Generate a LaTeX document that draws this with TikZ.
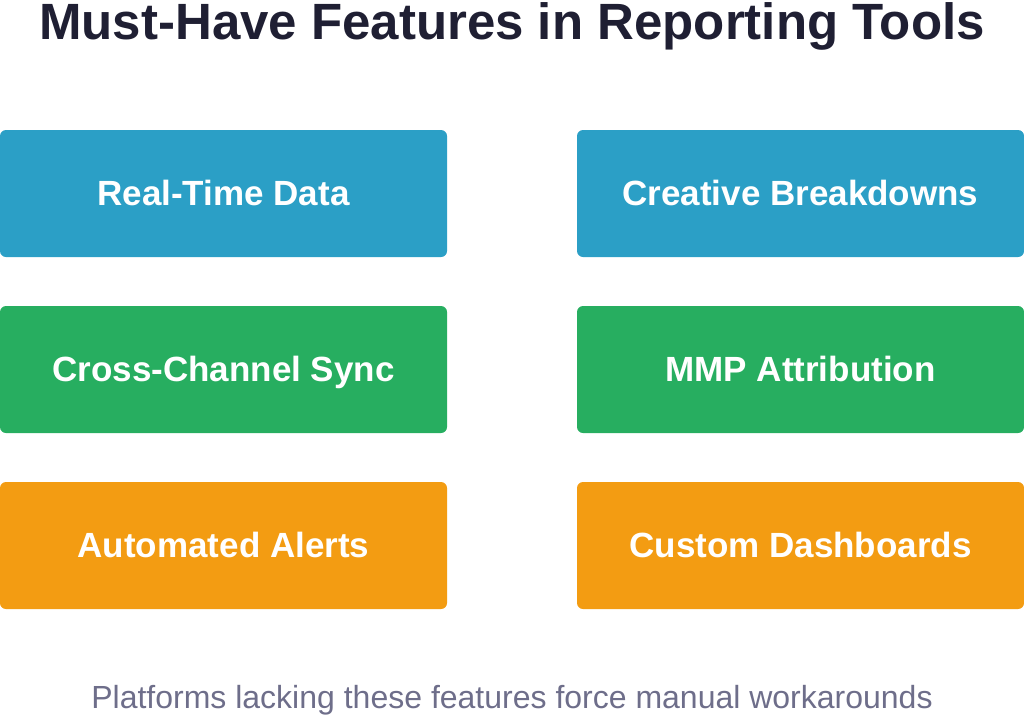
\documentclass[tikz,border=0pt]{standalone}
\usepackage{fontspec}
\setmainfont{Liberation Sans}
\begin{document}
\definecolor{cblue}{HTML}{2B9FC6}
\definecolor{cgreen}{HTML}{27AE60}
\definecolor{corange}{HTML}{F39C12}
\definecolor{ctitle}{HTML}{1F1F33}
\definecolor{cfoot}{HTML}{6E6E8A}
\begin{tikzpicture}[x=1pt,y=-1pt,
  box/.style={rounded corners=6pt, minimum width=447pt, minimum height=127pt, inner sep=0pt},
  lab/.style={anchor=base, text=white, font=\fontsize{35}{40}\selectfont\bfseries}]
\useasboundingbox (0,0) rectangle (1024,718);
\node[anchor=base, font=\fontsize{51}{58}\selectfont\bfseries, text=ctitle] (title) at (512,39) {Must-Have Features in Reporting Tools};
\node[box, fill=cblue] (a) at (223.5,193.5) {};
\node[box, fill=cblue] (b) at (800.5,193.5) {};
\node[box, fill=cgreen] (c) at (223.5,369.5) {};
\node[box, fill=cgreen] (d) at (800.5,369.5) {};
\node[box, fill=corange] (e) at (223.5,545.5) {};
\node[box, fill=corange] (f) at (800.5,545.5) {};
\node[lab] (ta) at ([yshift=-12pt]a.center) {Real-Time Data};
\node[lab] (tb) at ([yshift=-12pt]b.center) {Creative Breakdowns};
\node[lab] (tc) at ([yshift=-12pt]c.center) {Cross-Channel Sync};
\node[lab] (td) at ([yshift=-12pt]d.center) {MMP Attribution};
\node[lab] (te) at ([yshift=-12pt]e.center) {Automated Alerts};
\node[lab] (tf) at ([yshift=-12pt]f.center) {Custom Dashboards};
\node[anchor=base, font=\fontsize{32}{36}\selectfont, text=cfoot] (foot) at (512,708) {Platforms lacking these features force manual workarounds};
\end{tikzpicture}
\end{document}
